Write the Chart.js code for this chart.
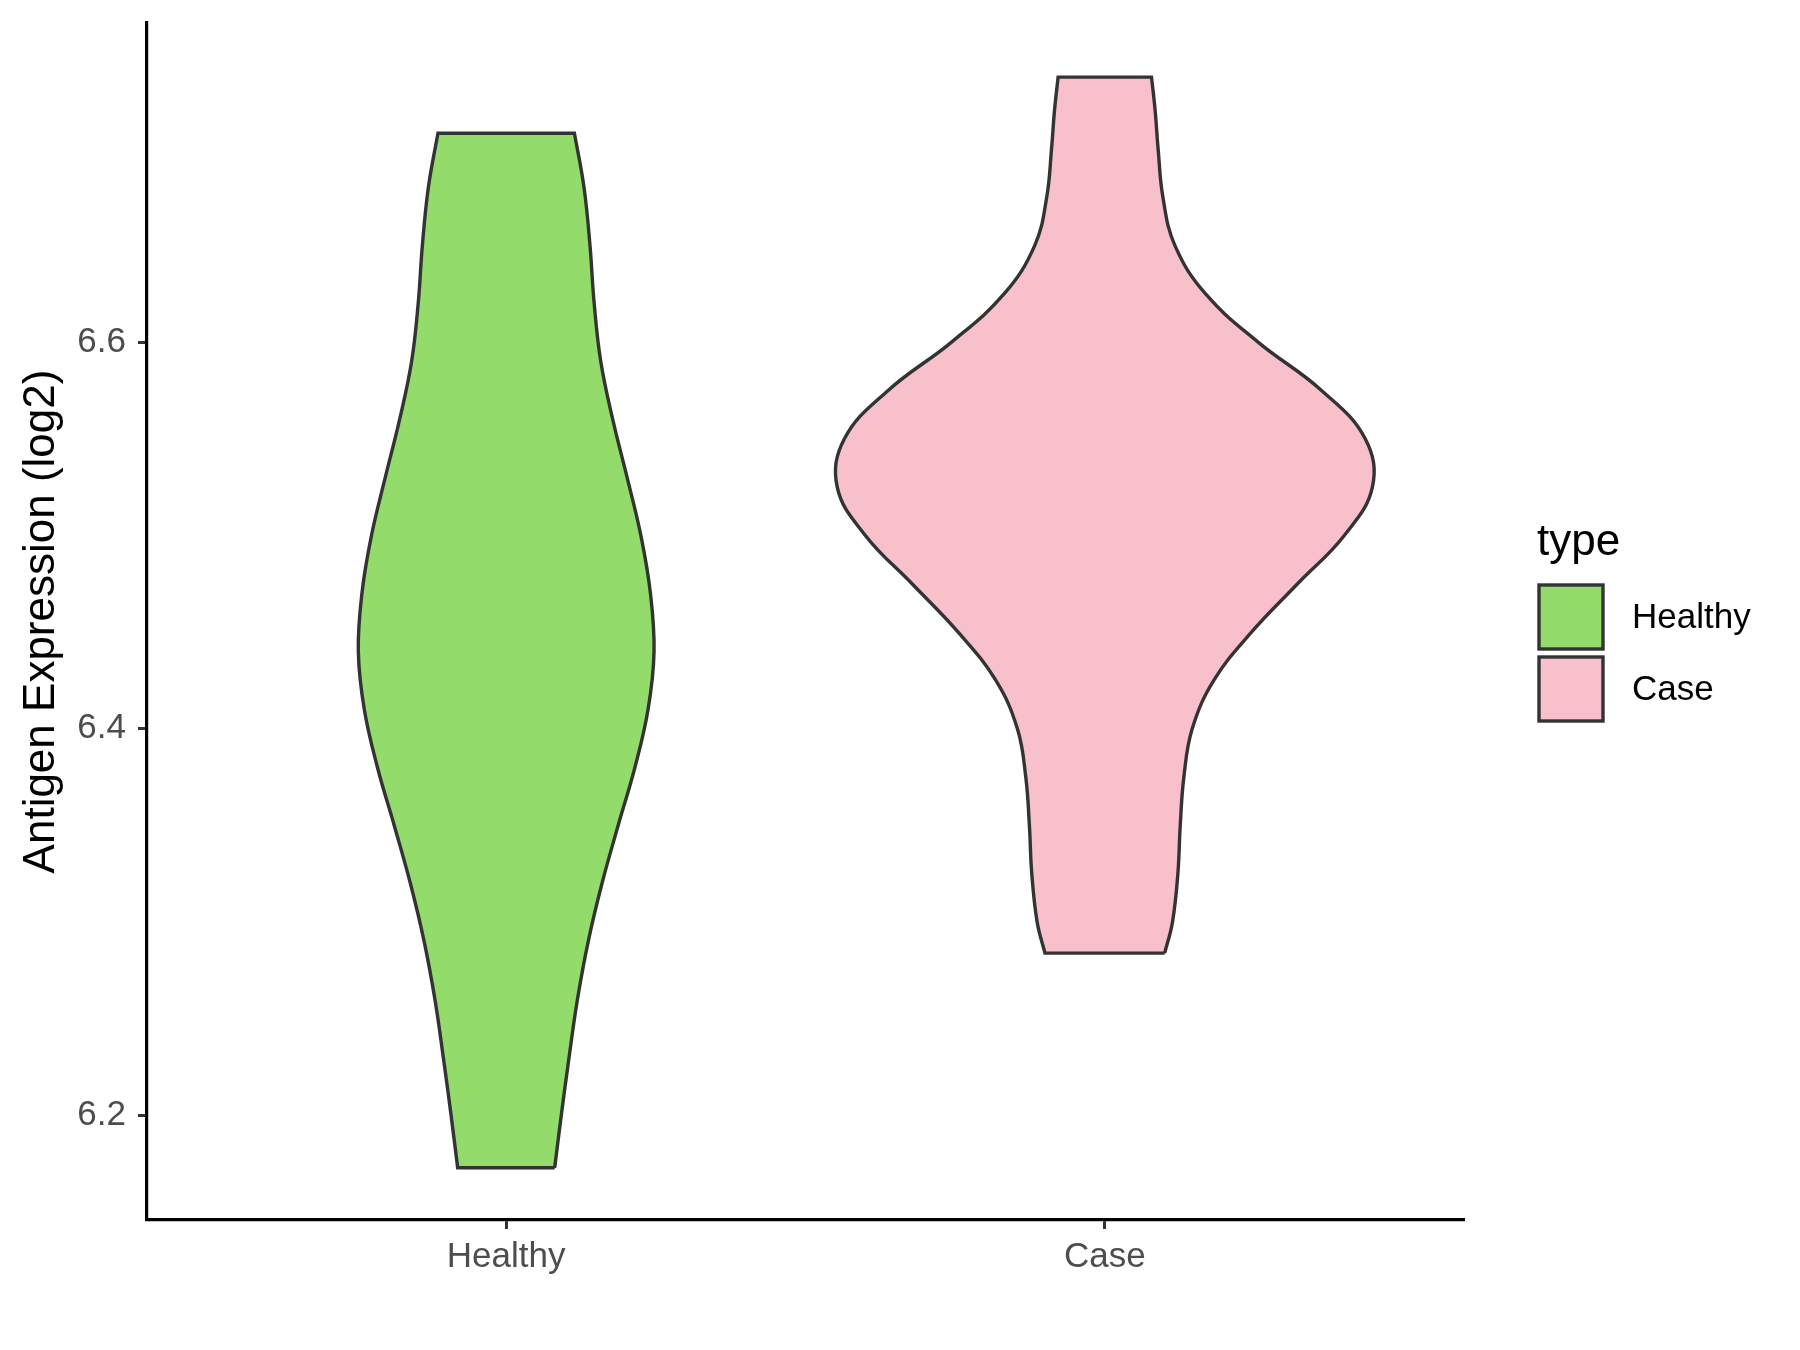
<!DOCTYPE html>
<html>
<head>
<meta charset="utf-8">
<title>Antigen Expression</title>
<script src="https://cdn.jsdelivr.net/npm/chart.js@4.4.1/dist/chart.umd.min.js"></script>
<style>
  body { margin: 0; background: #ffffff; }
</style>
</head>
<body>
<canvas id="graficoViolin" width="1800" height="1350"></canvas>
<script>
var categorias = ['Healthy', 'Case'];
var colores = ['#93DB6A', '#F7C0CB'];
var ticksY = [6.2, 6.4, 6.6];

// density outline of each group: expression value and half width (x units)
var healthyY = [6.173, 6.20, 6.23, 6.26, 6.29, 6.32, 6.35, 6.38, 6.41, 6.44, 6.47, 6.50, 6.53, 6.56, 6.59, 6.62, 6.65, 6.68, 6.708];
var healthyAncho = [0.081, 0.092, 0.105, 0.119, 0.137, 0.160, 0.187, 0.215, 0.237, 0.247, 0.241, 0.225, 0.202, 0.178, 0.158, 0.147, 0.140, 0.130, 0.114];

var caseY = [6.284, 6.30, 6.325, 6.35, 6.375, 6.40, 6.425, 6.45, 6.475, 6.50, 6.525, 6.55, 6.575, 6.60, 6.625, 6.65, 6.675, 6.70, 6.72, 6.737];
var caseAncho = [0.100, 0.113, 0.122, 0.126, 0.132, 0.146, 0.182, 0.245, 0.322, 0.400, 0.447, 0.435, 0.362, 0.256, 0.168, 0.117, 0.097, 0.089, 0.084, 0.078];

var fuente = '"Liberation Sans", Arial, sans-serif';

// outline: right side going up, left side coming down, corners doubled so they stay sharp
function contorno(centro, ys, anchos) {
    var pts = [];
    var n = ys.length;
    for (var i = 0; i < n; i++) {
        pts.push({ x: centro + anchos[i], y: ys[i] });
        if (i === 0 || i === n - 1) pts.push({ x: centro + anchos[i], y: ys[i] });
    }
    for (var j = n - 1; j >= 0; j--) {
        pts.push({ x: centro - anchos[j], y: ys[j] });
        if (j === 0 || j === n - 1) pts.push({ x: centro - anchos[j], y: ys[j] });
    }
    pts.push({ x: centro + anchos[0], y: ys[0] });
    return pts;
}

function violin(indice, ys, anchos) {
    return {
        label: categorias[indice],
        data: contorno(indice + 1, ys, anchos),
        showLine: true,
        fill: 'shape',
        backgroundColor: colores[indice],
        borderColor: '#333333',
        borderWidth: 3.4,
        tension: 0.4,
        pointRadius: 0,
        pointHoverRadius: 0
    };
}

var leyenda = {
    id: 'leyenda',
    afterDraw: function (chart) {
        var ctx = chart.ctx;
        ctx.save();
        ctx.fillStyle = '#000000';
        ctx.font = '44px ' + fuente;
        ctx.textBaseline = 'alphabetic';
        ctx.fillText('type', 1537, 555);
        for (var i = 0; i < categorias.length; i++) {
            var y = 585 + i * 72;
            ctx.fillStyle = colores[i];
            ctx.fillRect(1539, y, 64, 64);
            ctx.strokeStyle = '#333333';
            ctx.lineWidth = 3.4;
            ctx.strokeRect(1539, y, 64, 64);
            ctx.fillStyle = '#000000';
            ctx.font = '35px ' + fuente;
            ctx.textBaseline = 'middle';
            ctx.fillText(categorias[i], 1632, y + 33);
        }
        ctx.restore();
    }
};

new Chart(document.getElementById('graficoViolin'), {
    type: 'scatter',
    data: {
        datasets: [
            violin(0, healthyY, healthyAncho),
            violin(1, caseY, caseAncho)
        ]
    },
    options: {
        responsive: false,
        animation: false,
        devicePixelRatio: 1,
        layout: { padding: { top: 23, right: 336, left: 0, bottom: 0 } },
        plugins: {
            legend: { display: false },
            tooltip: { enabled: false }
        },
        scales: {
            x: {
                type: 'linear',
                min: 0.4,
                max: 2.6,
                afterBuildTicks: function (scale) {
                    scale.ticks = categorias.map(function (c, i) { return { value: i + 1 }; });
                },
                afterFit: function (scale) {
                    scale.height = 130;
                    scale.paddingLeft = 0;
                    scale.paddingRight = 0;
                },
                ticks: {
                    callback: function (v) { return categorias[v - 1]; },
                    color: '#4D4D4D',
                    font: { family: fuente, size: 35 },
                    padding: 7,
                    autoSkip: false,
                    maxRotation: 0
                },
                grid: { display: true, drawOnChartArea: false, drawTicks: true, tickLength: 9, tickColor: '#333333', tickWidth: 3 },
                border: { display: true, color: '#000000', width: 3.2 }
            },
            y: {
                min: 6.146,
                max: 6.765,
                afterBuildTicks: function (scale) {
                    scale.ticks = ticksY.map(function (v) { return { value: v }; });
                },
                afterFit: function (scale) {
                    scale.width = 147;
                    scale.paddingTop = 0;
                    scale.paddingBottom = 0;
                },
                ticks: {
                    callback: function (v) { return v.toFixed(1); },
                    color: '#4D4D4D',
                    font: { family: fuente, size: 35 },
                    padding: 12
                },
                grid: { display: true, drawOnChartArea: false, drawTicks: true, tickLength: 9, tickColor: '#333333', tickWidth: 3 },
                border: { display: true, color: '#000000', width: 3.2 },
                title: {
                    display: true,
                    text: 'Antigen Expression (log2)',
                    color: '#000000',
                    font: { family: fuente, size: 44 },
                    padding: { top: 15, bottom: 0 }
                }
            }
        }
    },
    plugins: [leyenda]
});
</script>
</body>
</html>
